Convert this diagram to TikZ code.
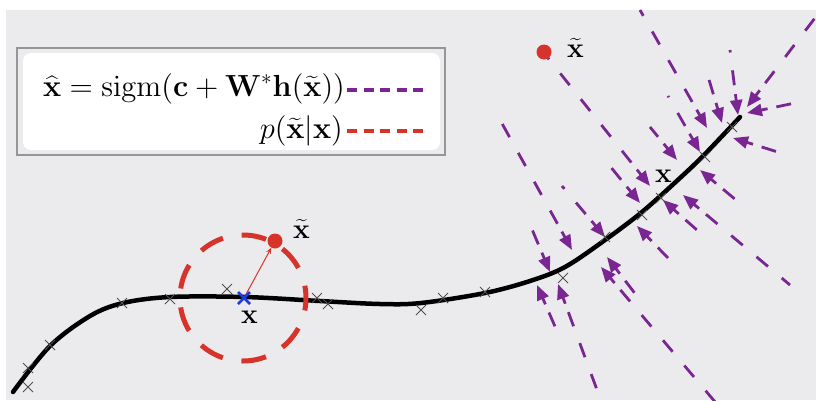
\documentclass[tikz,border=0pt]{standalone}
\usepackage{graphicx}
\usetikzlibrary{arrows.meta,calc}
\definecolor{bg}{RGB}{235,235,237}
\definecolor{pur}{RGB}{122,38,146}
\definecolor{rd}{RGB}{214,52,42}
\definecolor{bl}{RGB}{30,60,220}
\definecolor{crossgray}{RGB}{80,80,80}
\definecolor{boxedge}{RGB}{150,150,150}
\newcommand{\bigtxt}[1]{\scalebox{1.95}{\fontsize{14.4}{17}\selectfont #1}}
\newcommand{\legtxt}[1]{\scalebox{2.12}{\fontsize{14.4}{17}\selectfont #1}}
\begin{document}
\begin{tikzpicture}[x=1pt,y=-1pt,
  pdash/.style={pur,line width=2.8pt,dash pattern=on 15pt off 18pt},
  ptip/.style={pur,line width=2.8pt,-{Triangle[length=15pt,width=12pt]}},
  tick/.style={crossgray,line width=1pt},
  lbl/.style={inner sep=0pt},
  reddot/.style={circle, fill=rd, minimum size=15pt, inner sep=0pt},
]
\useasboundingbox (0,0) rectangle (816,400);
\fill[white] (0,0) rectangle (816,400);
\fill[bg] (6,10) rectangle (816,400);

% legend
\draw[boxedge, line width=1.5pt, fill=bg] (17,48) rectangle (445,155);
\fill[white, rounded corners=8pt] (23,53) rectangle (440,150);
\node[lbl, anchor=base east] (f1) at (345,96) {\legtxt{$\widehat{\mathbf{x}} = \mathrm{sigm}(\mathbf{c}+\mathbf{W}^{*}\mathbf{h}(\widetilde{\mathbf{x}}))$}};
\node[lbl, anchor=base east] (f2) at (343,138) {\legtxt{$p(\widetilde{\mathbf{x}}|\mathbf{x})$}};
\coordinate (l1a) at (347,90); \coordinate (l1b) at (423,90);
\coordinate (l2a) at (347,131); \coordinate (l2b) at (423,131);
\draw[pur, line width=4pt, dash pattern=on 10pt off 6.5pt] (l1a) -- (l1b);
\draw[rd, line width=4pt, dash pattern=on 10pt off 6.5pt] (l2a) -- (l2b);

% purple reconstruction arrows (dashes laid out from the tip end outwards)
\foreach \i/\sx/\sy/\tx/\ty in {
  1/640/10/707/128, 2/704/63/722/123, 3/730/50/738/115, 4/818/14/747/107,
  5/795/103/747/113, 6/781/153/733/138, 7/548/58/650/186, 8/650/127/677/160,
  9/668/96/700/152, 10/742/205/700/170, 11/605/160/640/203, 12/706/238/663/200,
  13/494/109/572/250, 14/526/215/550/272, 15/562/186/605/237, 16/560/338/537/285,
  17/600/398/558/284, 18/716/403/601/267, 19/640/300/607/257, 20/790/285/683/195,
  21/668/258/637/226}{
  \coordinate (s\i) at (\sx,\sy);
  \coordinate (t\i) at (\tx,\ty);
  \draw[pdash] ($(t\i)!30pt!(s\i)$) -- (s\i);
  \draw[ptip] ($(t\i)!21pt!(s\i)$) -- (t\i);
}

% manifold curve
\draw[black, line width=4.5pt, line cap=round] plot[smooth, tension=0.55] coordinates {
  (13,392) (50,346) (90,316) (123,303) (170,297) (245,297) (320,301) (380,304)
  (421,303) (485,293) (530,281) (565,267) (605,240) (642,212) (680,178) (705,154) (740,117)};

% training points
\foreach \i/\cx/\cy in {1/28/368, 2/50/345, 3/28/387, 4/122/303, 5/170/299, 6/227/289,
  7/317/298, 8/328/304, 9/421/310, 10/443/298, 11/485/292, 12/563/278, 13/605/237,
  14/642/215, 15/661/198, 16/705/157, 17/732/127}{
  \coordinate (c\i) at (\cx,\cy);
  \draw[tick] (c\i) +(-5,-5) -- +(5,5) (c\i) +(-5,5) -- +(5,-5);
}

% corruption circle
\coordinate (cc) at (243,298);
\draw[rd, line width=5pt, dash pattern=on 25pt off 19pt, dash phase=12.5pt] (cc) circle[radius=63];

% blue x and corrupted sample
\coordinate (bx) at (244,298);
\node[reddot] (rd1) at (275,241) {};
\draw[rd, line width=1pt, -{Stealth[length=6pt,width=5pt]}] (bx) -- (rd1);
\draw[bl, line width=2.6pt] (bx) +(-6,-6) -- +(6,6) (bx) +(-6,6) -- +(6,-6);
\node[reddot] (rd2) at (544,52) {};

% labels
\node[lbl, anchor=base west] (lx1) at (293,238) {\bigtxt{$\widetilde{\mathbf{x}}$}};
\node[lbl, anchor=base west] (lx2) at (567,57) {\bigtxt{$\widetilde{\mathbf{x}}$}};
\node[lbl, anchor=base west] (lx3) at (241,323) {\bigtxt{$\mathbf{x}$}};
\node[lbl, anchor=base west] (lx4) at (655,182) {\bigtxt{$\mathbf{x}$}};
\end{tikzpicture}
\end{document}
